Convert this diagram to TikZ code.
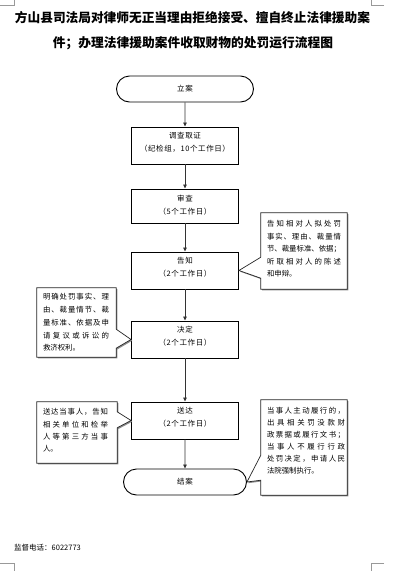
\documentclass[tikz,border=0pt]{standalone}
\usepackage{graphicx}
\usepackage{fontspec}
\setmainfont{Noto Sans CJK SC}
\newfontfamily\cjkls[LetterSpace=8]{Noto Sans CJK SC}
\usetikzlibrary{arrows.meta,shadows,shapes.misc}
\def\jend{}
\def\jline#1{\noindent\hbox to\hsize{\jlA#1\jend}\par}
\def\jlA#1{#1\jlB}
\def\jlB#1{\ifx#1\jend\else\hfil#1\expandafter\jlB\fi}
\def\jlast#1{\noindent#1\par}
\begin{document}
\begin{tikzpicture}[x=1pt,y=-1pt,
  box/.style={draw=black, line width=0.9pt, minimum width=107pt, inner sep=0pt},
  term/.style={draw=black, line width=0.9pt, rounded rectangle, minimum height=26pt, inner sep=0pt, font=\cjkls\fontsize{7.5}{9}\selectfont},
  mtext/.style={font=\cjkls\fontsize{7.5}{13}\selectfont, align=center, inner sep=0pt},
  ttl/.style={font=\bfseries\fontsize{12.7}{14}\selectfont, inner sep=0pt},
  cbox/.style={inner sep=0pt},
  ctext/.style={inner sep=0pt, anchor=north west},
  callout/.style={draw=black!85, line width=0.7pt, fill=white, drop shadow={shadow xshift=1.2pt, shadow yshift=-1.2pt, opacity=1, fill=black!45}},
  conn/.style={draw=black!80, line width=0.8pt, -{Triangle[length=4pt,width=3.5pt]}},
  crop/.style={draw=black!40, line width=0.6pt}]
\useasboundingbox (0,0) rectangle (403,571);
% crop marks
\draw[crop] (0,5) -- (14,5) -- (14,0);
\draw[crop] (384,5) -- (371,5) -- (371,0);
\draw[crop] (0,563) -- (14,563) -- (14,571);
\draw[crop] (384,563) -- (371,563) -- (371,571);
% title
\node[ttl] (t1) at (192.5,18) {\resizebox{355pt}{!}{方山县司法局对律师无正当理由拒绝接受、擅自终止法律援助案}};
\node[ttl] (t2) at (193,43) {\resizebox{280pt}{!}{件；办理法律援助案件收取财物的处罚运行流程图}};
% main flow
\node[term, minimum width=137pt] (s) at (185,89) {立案};
\node[box, minimum height=37pt] (b1) at (185,145.5) {};
\node[mtext] (b1t) at ([yshift=3pt]b1.center) {调查取证\\（纪检组，10个工作日）};
\node[box, minimum height=34pt] (b2) at (185,206) {};
\node[mtext] (b2t) at ([yshift=1pt]b2.center) {审查\\（5个工作日）};
\node[box, minimum height=37pt] (b3) at (185,270.5) {};
\node[mtext] (b3t) at ([yshift=3pt]b3.center) {告知\\（2个工作日）};
\node[box, minimum height=37pt] (b4) at (185,339.5) {};
\node[mtext] (b4t) at ([yshift=3pt]b4.center) {决定\\（2个工作日）};
\node[box, minimum height=37pt] (b5) at (185,420.5) {};
\node[mtext] (b5t) at ([yshift=3pt]b5.center) {送达\\（2个工作日）};
\node[term, minimum width=123pt] (e) at (185,482) {结案};
\draw[conn] (s) -- (b1);
\draw[conn] (b1) -- (b2);
\draw[conn] (b2) -- (b3);
\draw[conn] (b3) -- (b4);
\draw[conn] (b4) -- (b5);
\draw[conn] (b5) -- (e);
% callout 1 (right of 告知)
\node[cbox, minimum width=86pt, minimum height=76pt] (c1) at (304,251) {};
\draw[callout] (c1.north west) -- (c1.north east) -- (c1.south east) -- (c1.south west)
  -- ([yshift=11pt]c1.south west) -- (b3.east) -- ([yshift=32pt]c1.south west) -- cycle;
\node[ctext, text width=74pt, font=\fontsize{7.4}{12.5}\selectfont] (c1t) at ([xshift=6pt,yshift=-7.5pt]c1.north west)
  {\jline{告知相对人拟处罚}\jline{事实、理由、裁量情}\jline{节、裁量标准、依据；}\jline{听取相对人的陈述}\jlast{和申辩。}};
% callout 2 (left of 决定)
\node[cbox, minimum width=79pt, minimum height=69pt] (c2) at (76.5,322.5) {};
\draw[callout] (c2.north west) -- (c2.north east) -- ([yshift=28pt]c2.south east) -- (b4.west)
  -- ([yshift=9pt]c2.south east) -- (c2.south east) -- (c2.south west) -- cycle;
\node[ctext, text width=66pt, font=\fontsize{7.4}{12.75}\selectfont] (c2t) at ([xshift=6pt,yshift=-5.5pt]c2.north west)
  {\jline{明确处罚事实、理}\jline{由、裁量情节、裁}\jline{量标准、依据及申}\jline{请复议或诉讼的}\jlast{救济权利。}};
% callout 3 (left of 送达)
\node[cbox, minimum width=80pt, minimum height=61pt] (c3) at (77,432.5) {};
\draw[callout] (c3.north west) -- (c3.north east) -- ([yshift=-10pt]c3.north east) -- (b5.west)
  -- ([yshift=-26pt]c3.north east) -- (c3.south east) -- (c3.south west) -- cycle;
\node[ctext, text width=65pt, font=\fontsize{7.4}{12.3}\selectfont] (c3t) at ([xshift=6pt,yshift=-6.5pt]c3.north west)
  {\jline{送达当事人，告知}\jline{相关单位和检举}\jline{人等第三方当事}\jlast{人。}};
% callout 4 (right of 结案)
\node[cbox, minimum width=86pt, minimum height=95pt] (c4) at (304,447.5) {};
\draw[callout] (c4.north west) -- (c4.north east) -- (c4.south east) -- (c4.south west)
  -- ([yshift=15pt]c4.south west) -- (e.east) -- ([yshift=40pt]c4.south west) -- cycle;
\node[ctext, text width=78pt, font=\fontsize{7.4}{12}\selectfont] (c4t) at ([xshift=6pt,yshift=-7.5pt]c4.north west)
  {\jline{当事人主动履行的，}\jline{出具相关罚没款财}\jline{政票据或履行文书；}\jline{当事人不履行行政}\jline{处罚决定，申请人民}\jlast{法院强制执行。}};
% footer
\node[anchor=west, font=\fontsize{7.5}{9}\selectfont, inner sep=0pt] (tel) at (14,548) {监督电话：6022773};
\end{tikzpicture}
\end{document}
